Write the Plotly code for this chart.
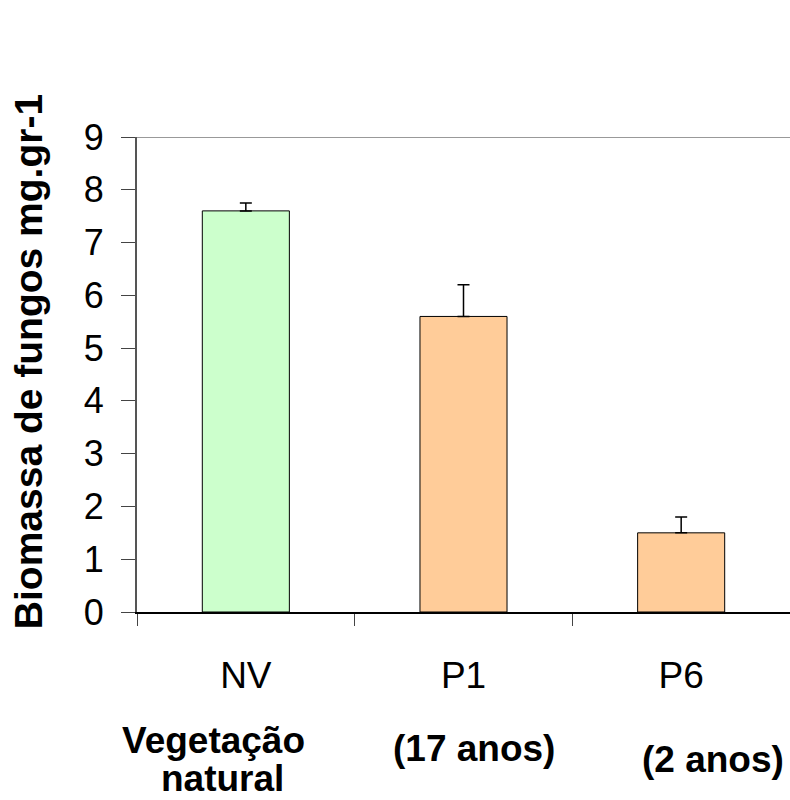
import plotly.graph_objects as go

categories = ["NV", "P1", "P6"]
values = [7.6, 5.6, 1.5]
errors = [0.15, 0.6, 0.3]
colors = ["#CCFFCC", "#FFCC99", "#FFCC99"]
sublabels = ["Vegetação", "natural", "(17 anos)", "(2 anos)"]
sublabel_x = [0.1164, 0.1302, 0.516, 0.882]
sublabel_y = [-0.2695, -0.3495, -0.2884, -0.3095]
y_ticks = list(range(0, 10))
y_title = "Biomassa de fungos mg.gr-1"

FONT = "Arial, Liberation Sans, sans-serif"

fig = go.Figure()
fig.add_trace(go.Bar(
    x=categories, y=values,
    marker=dict(color=colors, line=dict(color="black", width=1)),
    width=0.4,
    error_y=dict(type="data", array=errors, symmetric=False, arrayminus=[0, 0, 0],
                 color="black", thickness=1.5, width=6),
))

fig.add_shape(type="line", xref="paper", yref="y", x0=0, x1=1, y0=9, y1=9,
              line=dict(color="#999999", width=2))

for t, xx, yy in zip(sublabels, sublabel_x, sublabel_y):
    fig.add_annotation(x=xx, y=yy, xref="paper", yref="paper", text="<b>%s</b>" % t,
                       showarrow=False, font=dict(family=FONT, size=37, color="black"),
                       xanchor="center", yanchor="middle", borderpad=0)

fig.add_annotation(x=-0.167, y=0.528, xref="paper", yref="paper",
                   text="<b>%s</b>" % y_title, textangle=-90, showarrow=False,
                   font=dict(family=FONT, size=39, color="black"),
                   xanchor="center", yanchor="middle")

fig.update_layout(
    width=790, height=800,
    margin=dict(l=137, r=0, t=137, b=188),
    plot_bgcolor="white", paper_bgcolor="white",
    showlegend=False,
    font=dict(family=FONT, color="black"),
)
fig.update_xaxes(
    type="category", tickson="boundaries", ticks="outside", ticklen=12, tickwidth=1,
    tickcolor="#444444", showline=True, linecolor="black", linewidth=1.5,
    tickfont=dict(size=37), ticklabelstandoff=30, showgrid=False,
)
fig.update_yaxes(
    range=[0, 9], tickvals=y_ticks, ticks="outside", ticklen=14, tickwidth=1,
    tickcolor="#444444", showline=True, linecolor="#555555", linewidth=2,
    tickfont=dict(size=36), ticklabelstandoff=10, showgrid=False, zeroline=False,
)
fig.write_html("out.html")
